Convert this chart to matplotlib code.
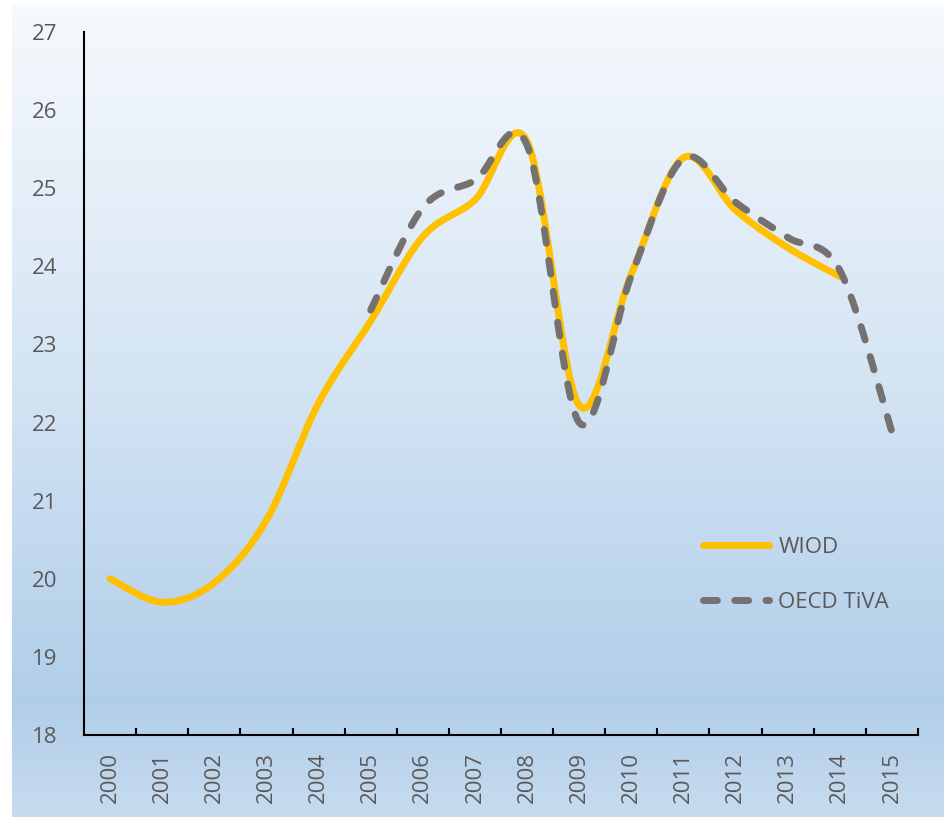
import numpy as np
import matplotlib
matplotlib.use("Agg")
import matplotlib.pyplot as plt
from matplotlib.colors import LinearSegmentedColormap

years = ['2000', '2001', '2002', '2003', '2004', '2005', '2006', '2007',
         '2008', '2009', '2010', '2011', '2012', '2013', '2014', '2015']

wiod = [20.0, 19.7, 19.95, 20.75, 22.25, 23.3, 24.38, 24.85,
        25.6, 22.22, 23.9, 25.39, 24.72, 24.24, 23.87, None]
tiva = [None, None, None, None, None, 23.44, 24.75, 25.1,
        25.55, 22.0, 23.88, 25.38, 24.82, 24.37, 23.95, 21.88]


def smooth(xs, ys, n=40):
    # Catmull-Rom style bezier smoothing, like Excel's smoothed lines
    px, py = [], []
    m = len(xs)
    for i in range(m - 1):
        p0 = np.array([xs[max(i - 1, 0)], ys[max(i - 1, 0)]])
        p1 = np.array([xs[i], ys[i]])
        p2 = np.array([xs[i + 1], ys[i + 1]])
        p3 = np.array([xs[min(i + 2, m - 1)], ys[min(i + 2, m - 1)]])
        c1 = p1 + (p2 - p0) / 6.0
        c2 = p2 - (p3 - p1) / 6.0
        t = np.linspace(0, 1, n)[:, None]
        pts = ((1 - t) ** 3) * p1 + 3 * ((1 - t) ** 2) * t * c1 \
            + 3 * (1 - t) * t ** 2 * c2 + t ** 3 * p2
        if i > 0:
            pts = pts[1:]
        px.extend(pts[:, 0])
        py.extend(pts[:, 1])
    return px, py


def series(vals):
    xs = [i for i, v in enumerate(vals) if v is not None]
    ys = [v for v in vals if v is not None]
    return smooth(xs, ys)


plt.rcParams['font.family'] = ['Open Sans', 'DejaVu Sans']
txt = '#595959'

fig = plt.figure(figsize=(9.45, 8.17), dpi=100)

# gradient backdrop
bg = fig.add_axes([12 / 945, 0, 1 - 12 / 945, 1 - 5 / 817])
cmap = LinearSegmentedColormap.from_list(
    'bg', [(0.0, '#f6f9fd'), (0.45, '#d5e5f4'), (0.86, '#b1cee9'), (1.0, '#c7dbef')])
bg.imshow(np.linspace(0, 1, 256)[:, None], aspect='auto', cmap=cmap,
          extent=[0, 1, 0, 1])
bg.axis('off')

ax = fig.add_axes([84 / 945, 1 - 735 / 817, (918 - 84) / 945, (735 - 32) / 817])
ax.patch.set_alpha(0)

wx, wy = series(wiod)
tx, ty = series(tiva)
ax.plot(wx, wy, color='#FFC000', lw=5, solid_capstyle='round', label='WIOD', zorder=3)
ax.plot(tx, ty, color='#767171', lw=5, dashes=(2.0, 2.5), dash_capstyle='round',
        label='OECD TiVA', zorder=4)

ax.set_xlim(-0.5, 15.5)
ax.set_ylim(18, 27)
ax.set_yticks(range(18, 28))
ax.tick_params(axis='y', length=0, pad=19, labelsize=16, labelcolor=txt)

ax.set_xticks(np.arange(0.5, 15.6, 1))
ax.set_xticklabels([])
ax.tick_params(axis='x', which='major', direction='in', length=5, width=1.5, color='black')
ax.set_xticks(range(len(years)), minor=True)
ax.set_xticklabels(years, minor=True, rotation=90)
ax.tick_params(axis='x', which='minor', length=0, pad=12, labelsize=16, labelcolor=txt)

for s in ['top', 'right']:
    ax.spines[s].set_visible(False)
for s in ['left', 'bottom']:
    ax.spines[s].set_linewidth(1.5)
    ax.spines[s].set_color('black')

leg = ax.legend(loc='upper left', bbox_to_anchor=(0.742, 0.282), frameon=False,
                fontsize=16, handlelength=3.0, handletextpad=0.4,
                labelspacing=1.55, borderaxespad=0, borderpad=0)
for t in leg.get_texts():
    t.set_color(txt)

fig.savefig('out.png', dpi=100)
